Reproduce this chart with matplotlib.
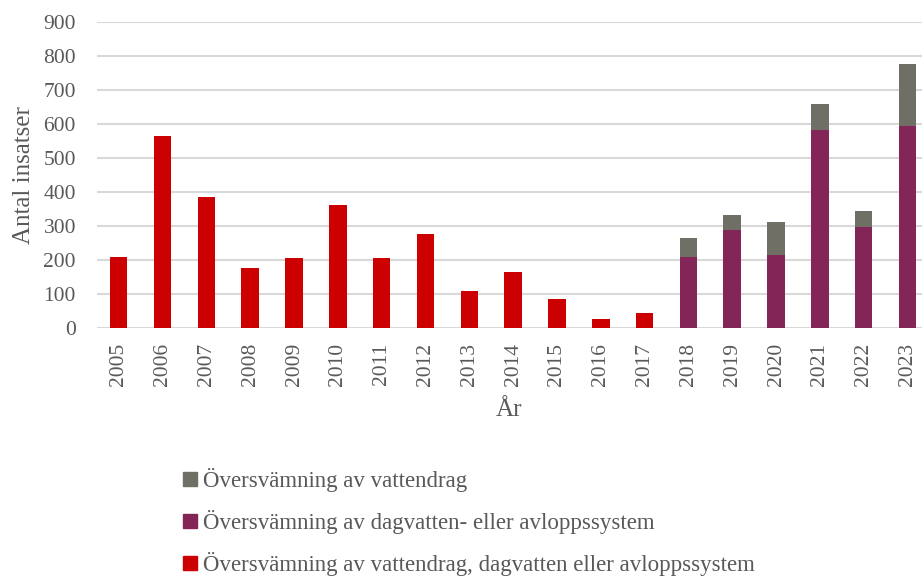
import matplotlib.pyplot as plt
from matplotlib.patches import Patch

# data
years = ["2005", "2006", "2007", "2008", "2009", "2010", "2011", "2012", "2013",
         "2014", "2015", "2016", "2017", "2018", "2019", "2020", "2021", "2022", "2023"]
combined = [208, 564, 384, 177, 205, 363, 207, 276, 107, 165, 84, 27, 42]   # 2005-2017
stormwater = [208, 287, 215, 584, 298, 595]                                 # 2018-2023
watercourse = [57, 46, 97, 77, 45, 184]                                     # 2018-2023

lbl_water = "Översvämning av vattendrag"
lbl_storm = "Översvämning av dagvatten- eller avloppssystem"
lbl_comb = "Översvämning av vattendrag, dagvatten eller avloppssystem"

red = "#CC0000"
purple = "#842558"
grey = "#706F66"
txt = "#595959"

plt.rcParams["font.family"] = ["Liberation Serif", "DejaVu Serif"]

fig = plt.figure(figsize=(9.22, 5.76), dpi=100)
ax = fig.add_axes([0.105, 0.431, 0.895, 0.530])

x_old = list(range(len(combined)))
x_new = list(range(len(combined), len(years)))
w = 0.4
ax.bar(x_old, combined, width=w, color=red, zorder=3)
ax.bar(x_new, stormwater, width=w, color=purple, zorder=3)
ax.bar(x_new, watercourse, width=w, bottom=stormwater, color=grey, zorder=3)

ax.set_ylim(0, 900)
ax.set_yticks(range(0, 901, 100))
ax.set_xlim(-0.5, 18.33)
ax.set_xticks(range(len(years)))
ax.set_xticklabels(years, rotation=90)
ax.grid(axis="y", color="#D9D9D9", linewidth=1.5, zorder=0)
for s in ax.spines.values():
    s.set_visible(False)
ax.tick_params(axis="both", length=0, labelsize=15.5, colors=txt)
ax.tick_params(axis="y", pad=15)
ax.tick_params(axis="x", pad=11)
ax.set_ylabel("Antal insatser", fontsize=18, color=txt, labelpad=6)
ax.set_xlabel("År", fontsize=18, color=txt, labelpad=9)

handles = [Patch(color=grey), Patch(color=purple), Patch(color=red)]
fig.legend(handles, [lbl_water, lbl_storm, lbl_comb], loc="upper left",
           bbox_to_anchor=(0.189, 0.203), frameon=False, fontsize=16.5,
           labelcolor=txt, handlelength=0.6, handleheight=0.6,
           handletextpad=0.25, labelspacing=0.78, borderaxespad=0)

fig.savefig("out.png", dpi=100)
